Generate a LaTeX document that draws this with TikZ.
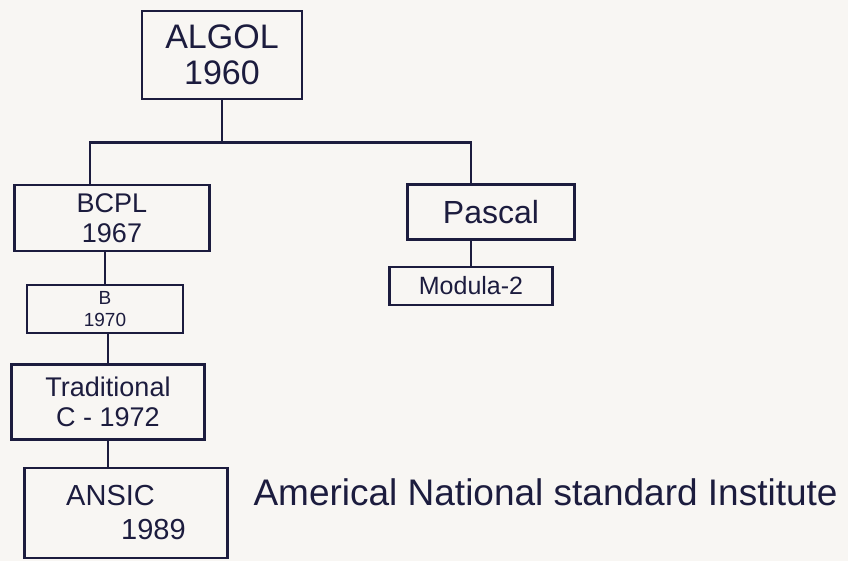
\documentclass[tikz,border=0pt]{standalone}
\usepackage{fontspec}
\setmainfont{Liberation Sans}
\definecolor{inkc}{RGB}{28,28,62}
\definecolor{paper}{RGB}{248,246,243}
\begin{document}
\begin{tikzpicture}[x=1pt,y=-1pt,
  box/.style={draw=inkc, line width=2.8pt, rectangle, inner sep=0pt,
              text=inkc, align=center},
  conn/.style={draw=inkc, line width=2.6pt},
  fs/.style={font=\fontsize{#1}{#1}\selectfont}]
  % sheet
  \fill[paper] (0,0) rectangle (848,561);
  \useasboundingbox (0,0) rectangle (848,561);

  % language boxes
  \node[box, minimum width=160, minimum height=88, fs=34] (algol) at (222,55)
       {ALGOL\\[2pt]1960};
  \node[box, minimum width=195, minimum height=66, fs=27] (bcpl) at (112,218)
       {BCPL\\[3pt]1967};
  \node[box, minimum width=156, minimum height=48, fs=19] (b) at (105,309)
       {B\\[3pt]1970};
  \node[box, minimum width=193, minimum height=75, fs=27] (trad) at (108,402)
       {Traditional\\[3pt]C - 1972};
  \node[box, minimum width=203, minimum height=90, fs=29, align=left] (ansic) at (126,513)
       {ANSIC\\[5pt]\hspace*{55pt}1989};
  \node[box, minimum width=167, minimum height=55, fs=32] (pascal) at (491,212)
       {Pascal};
  \node[box, minimum width=163, minimum height=38, fs=25] (modula) at (471,286)
       {Modula-2};

  % note beside ANSI C
  \node[text=inkc, fs=37, anchor=west] (note) at (250,492)
       {Americal National standard Institute};

  % family tree connectors
  \coordinate (fork) at ([yshift=-42pt]algol.south);
  \draw[conn] (algol.south) -- (fork);
  \draw[conn] ([xshift=-22pt]bcpl.north) |- (fork) -| (pascal.north -| modula.north);
  \draw[conn] (b.north) -- (b.north |- bcpl.south);
  \draw[conn] (trad.north) -- (trad.north |- b.south);
  \draw[conn] (ansic.north -| trad.south) -- (trad.south);
  \draw[conn] (modula.north) -- (modula.north |- pascal.south);
\end{tikzpicture}
\end{document}
